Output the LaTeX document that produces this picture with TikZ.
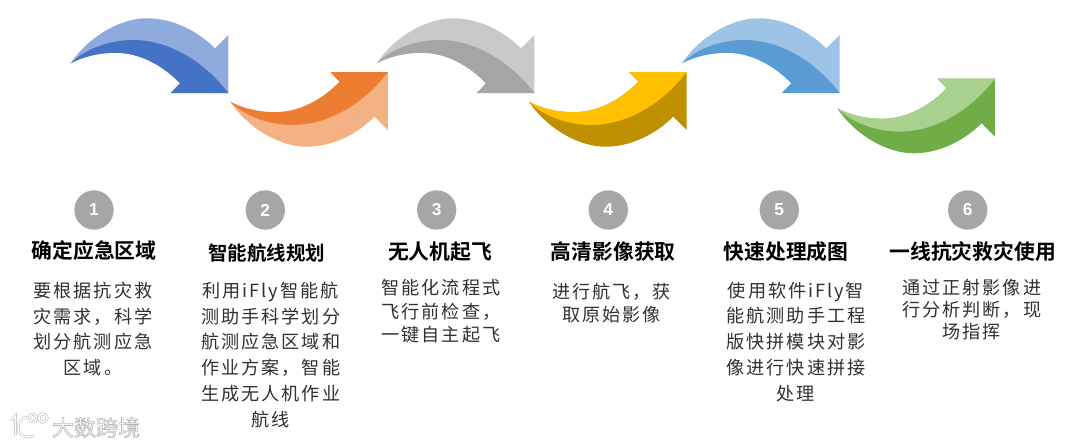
\documentclass[tikz,border=0pt]{standalone}
\usepackage{fontspec}
\newfontfamily\cjkbody[LetterSpace=11]{Noto Sans CJK SC}
\newfontfamily\cjkbold[BoldFont=Noto Sans CJK SC Bold]{Noto Sans CJK SC}
\newfontfamily\numf{Liberation Sans}
\definecolor{txtgray}{HTML}{303030}
\definecolor{numgray}{HTML}{A6A6A6}
\definecolor{blueL}{HTML}{8FAADC}\definecolor{blueD}{HTML}{4472C4}
\definecolor{orL}{HTML}{F4B183}\definecolor{orD}{HTML}{ED7D31}
\definecolor{grL}{HTML}{C9C9C9}\definecolor{grD}{HTML}{A5A5A5}
\definecolor{yeL}{HTML}{FFC000}\definecolor{yeD}{HTML}{BF9000}
\definecolor{skL}{HTML}{9DC3E6}\definecolor{skD}{HTML}{5B9BD5}
\definecolor{grnL}{HTML}{A9D18E}\definecolor{grnD}{HTML}{70AD47}
\definecolor{wm}{HTML}{B4B4B4}
\tikzset{
  px/.style={x=0.75pt,y=-0.75pt},
  numdot/.style={circle,fill=numgray,minimum size=29.5pt,inner sep=0pt,text=white,font=\numf\bfseries\fontsize{13}{13}\selectfont},
  titletxt/.style={font=\cjkbold\bfseries\fontsize{#1}{18}\selectfont,text=black,inner sep=0pt},
  titletxt/.default=15.6,
  bodytxt/.style={font=\cjkbody\fontsize{13.6}{#1}\selectfont,text=txtgray,align=center,inner sep=0pt,anchor=north},
  wmtxt/.style={font=\cjkbold\fontsize{16.5}{17}\selectfont,inner sep=0pt},
  wmline/.style={draw=wm,double=white,double distance=1.2pt,line width=0.4pt,line cap=round}
}
% #1 x of tail, #2 y of tail, #3 yscale, #4 outer colour, #5 inner colour
\newcommand{\swoosh}[5]{%
  \begin{scope}[shift={(#1*0.75pt,-#2*0.75pt)},x=0.75pt,y=#3*0.75pt]
    \fill[#4] (0,0) .. controls (18,27) and (50,45) .. (76,45)
       .. controls (103,45) and (127,32) .. (144.3,15)
       -- (157.6,28.3) -- (157.6,-29.7) -- (100,-29.7) -- (109.3,-20)
       .. controls (93,-3) and (70,10.5) .. (45,10.5)
       .. controls (28,10.5) and (12,6.5) .. (0,0) -- cycle;
    \fill[#5] (0,0) .. controls (12,6.5) and (28,10.5) .. (45,10.5)
       .. controls (70,10.5) and (93,-3) .. (109.3,-20)
       -- (100,-29.7) -- (157.6,-29.7)
       .. controls (135,0) and (100,23.3) .. (62,23.3)
       .. controls (40,23.3) and (15,15) .. (0,0) -- cycle;
  \end{scope}}
\begin{document}
\begin{tikzpicture}[px]
\useasboundingbox (0,0) rectangle (1080,446);
\swoosh{70.7}{63.3}{1}{blueL}{blueD}
\swoosh{230.3}{101.7}{-1}{orL}{orD}
\swoosh{376.7}{63.3}{1}{grL}{grD}
\swoosh{529}{101.7}{-1}{yeD}{yeL}
\swoosh{682}{63.3}{1}{skL}{skD}
\swoosh{837.3}{108.3}{-1}{grnD}{grnL}

\node[numdot] (n1) at (94,210) {1};
\node[numdot] (n2) at (265.3,210) {2};
\node[numdot] (n3) at (436.7,210) {3};
\node[numdot] (n4) at (608.3,210) {4};
\node[numdot] (n5) at (779.3,210) {5};
\node[numdot] (n6) at (967.7,210) {6};

\node[titletxt] (t1) at (94,251) {确定应急区域};
\node[titletxt=14.6] (t2) at (266.7,252.7) {智能航线规划};
\node[titletxt] (t3) at (440,251.7) {无人机起飞};
\node[titletxt] (t4) at (613.3,251.7) {高清影像获取};
\node[titletxt] (t5) at (786,252) {快速处理成图};
\node[titletxt] (t6) at (972.7,251.5) {一线抗灾救灾使用};

\node[bodytxt=19.4] (b1) at (93,281.5) {要根据抗灾救\\灾需求，科学\\划分航测应急\\区域。};
\node[bodytxt=19.4] (b2) at (270.7,281.5) {利用iFly智能航\\测助手科学划分\\航测应急区域和\\作业方案，智能\\生成无人机作业\\航线};
\node[bodytxt=17.6] (b3) at (441,279) {智能化流程式\\飞行前检查，\\一键自主起飞};
\node[bodytxt=17.6] (b4) at (611.7,282.5) {进行航飞，获\\取原始影像};
\node[bodytxt=19.4] (b5) at (796,281.5) {使用软件iFly智\\能航测助手工程\\版快拼模块对影\\像进行快速拼接\\处理};
\node[bodytxt=16.5] (b6) at (971.7,279) {通过正射影像进\\行分析判断，现\\场指挥};

\node[wmtxt] (wm) at (96,427.5) {\special{pdf:code 2 Tr 0.5 w 0.72 G 1 g}大数跨境\special{pdf:code 0 Tr 0 G 0 g}};
\draw[wmline] (11.5,420) -- (15.5,416) -- (15.5,435);
\draw[wmline] (26.3,417.2) arc[start angle=-100,end angle=-300,radius=10];
\draw[wmline] (33,418) circle[radius=3.8];
\draw[wmline] (43,418) circle[radius=4.2];
\end{tikzpicture}
\end{document}
